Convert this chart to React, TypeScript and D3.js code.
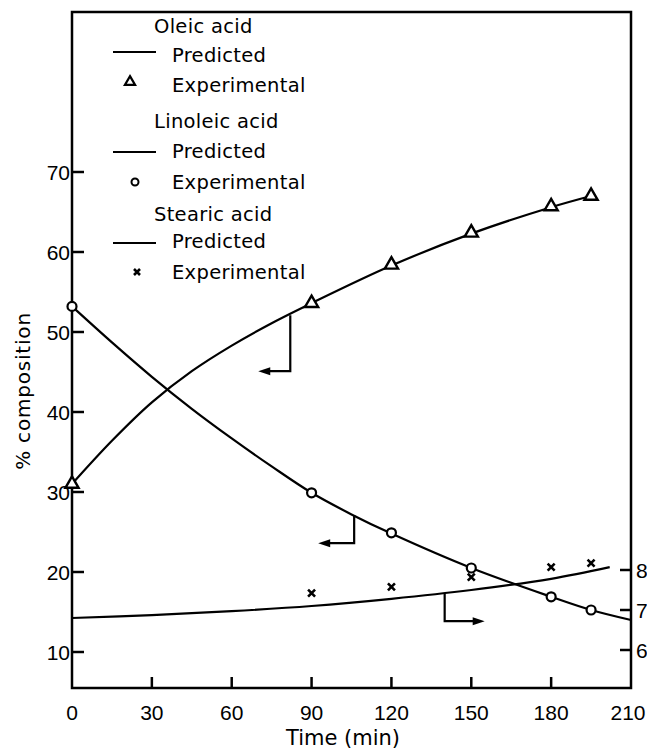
import React, { useEffect, useRef } from 'react'
import * as d3 from 'd3'

// experimental points (time in min)
const oleicTimes = [0, 90, 120, 150, 180, 195]
const oleicExp = [31.0, 53.6, 58.4, 62.4, 65.7, 67.0]
const linoleicTimes = [0, 90, 120, 150, 180, 195]
const linoleicExp = [53.2, 29.9, 24.9, 20.5, 16.9, 15.25]
const stearicTimes = [90, 120, 150, 180, 195]
const stearicExp = [7.42, 7.58, 7.82, 8.07, 8.17]

// predicted curves
const oleicPredT = [0, 15, 30, 45, 60, 75, 90, 120, 150, 180, 195]
const oleicPred = [31.0, 36.4, 41.2, 45.1, 48.3, 51.1, 53.6, 58.3, 62.3, 65.6, 67.0]
const linoleicPredT = [0, 15, 30, 45, 60, 75, 90, 105, 120, 150, 180, 195, 210]
const linoleicPred = [53.2, 48.7, 44.4, 40.4, 36.7, 33.2, 29.9, 27.2, 24.8, 20.5, 16.9, 15.25, 14.0]
const stearicPredT = [0, 30, 60, 90, 120, 150, 180, 202]
const stearicPred = [6.8, 6.87, 6.97, 7.1, 7.28, 7.5, 7.78, 8.07]

const xTicks = [0, 30, 60, 90, 120, 150, 180, 210]
const yLeftTicks = [10, 20, 30, 40, 50, 60, 70]
const yRightTicks = [6, 7, 8]

const legendGroups = [
  { title: 'Oleic acid', marker: 'triangle' },
  { title: 'Linoleic acid', marker: 'circle' },
  { title: 'Stearic acid', marker: 'cross' },
]

const FONT = 'DejaVu Sans'
const NUMFONT = 'Liberation Sans'

const App = () => {
  const ref = useRef<SVGSVGElement>(null)

  useEffect(() => {
    const svg = d3.select(ref.current)
    svg.selectAll('*').remove()

    const left = 72, right = 631, top = 12, bottom = 688

    const x = d3.scaleLinear().domain([0, 210]).range([left, right])
    const y = d3.scaleLinear().domain([5.5, 90]).range([bottom, top])
    const yR = d3.scaleLinear().domain([5.05, 21.95]).range([bottom, top])

    const g = svg.append('g')

    // frame
    g.append('rect')
      .attr('x', left).attr('y', top)
      .attr('width', right - left).attr('height', bottom - top)
      .attr('fill', 'none').attr('stroke', '#000').attr('stroke-width', 2.5)

    // bottom ticks
    g.selectAll('.xt').data(xTicks.filter(d => d > 0 && d < 210)).enter()
      .append('line')
      .attr('x1', d => x(d)).attr('x2', d => x(d))
      .attr('y1', bottom).attr('y2', bottom - 11)
      .attr('stroke', '#000').attr('stroke-width', 2.5)

    g.selectAll('.xl').data(xTicks).enter()
      .append('text')
      .attr('x', d => x(d) - (d === 210 ? 3 : 0)).attr('y', 720)
      .attr('text-anchor', 'middle')
      .attr('font-family', NUMFONT).attr('font-size', 21)
      .text(d => d)

    // left ticks
    g.selectAll('.yt').data(yLeftTicks).enter()
      .append('line')
      .attr('x1', left).attr('x2', left + 12)
      .attr('y1', d => y(d)).attr('y2', d => y(d))
      .attr('stroke', '#000').attr('stroke-width', 2.5)

    g.selectAll('.yl').data(yLeftTicks).enter()
      .append('text')
      .attr('x', left - 2).attr('y', d => y(d) + 7.5)
      .attr('text-anchor', 'end')
      .attr('font-family', NUMFONT).attr('font-size', 21)
      .text(d => d)

    // right ticks
    g.selectAll('.rt').data(yRightTicks).enter()
      .append('line')
      .attr('x1', right).attr('x2', right - 11)
      .attr('y1', d => yR(d)).attr('y2', d => yR(d))
      .attr('stroke', '#000').attr('stroke-width', 2.5)

    g.selectAll('.rl').data(yRightTicks).enter()
      .append('text')
      .attr('x', right + 5).attr('y', d => yR(d) + 7.5)
      .attr('font-family', NUMFONT).attr('font-size', 21)
      .text(d => d)

    // axis titles
    g.append('text')
      .attr('x', 343).attr('y', 745)
      .attr('text-anchor', 'middle')
      .attr('font-family', FONT).attr('font-size', 21)
      .text('Time (min)')

    g.append('text')
      .attr('transform', `translate(30, 391) rotate(-90)`)
      .attr('text-anchor', 'middle')
      .attr('font-family', FONT).attr('font-size', 20)
      .attr('letter-spacing', 0.8)
      .text('% composition')

    // predicted lines
    const drawPred = (ts: number[], vs: number[], sc: d3.ScaleLinear<number, number>) => {
      g.append('path')
        .datum(ts.map((t, i) => [x(t), sc(vs[i])] as [number, number]))
        .attr('fill', 'none').attr('stroke', '#000').attr('stroke-width', 2.2)
        .attr('d', d3.line().curve(d3.curveCatmullRom.alpha(0.5)))
    }
    drawPred(oleicPredT, oleicPred, y)
    drawPred(linoleicPredT, linoleicPred, y)
    drawPred(stearicPredT, stearicPred, yR)

    // arrows pointing to the axis used
    const arrow = (t: number, sc: d3.ScaleLinear<number, number>, v: number, drop: number, len: number) => {
      const x0 = x(t), y0 = sc(v), y1 = y0 + drop, x1 = x0 + len
      const s = Math.sign(len)
      g.append('path')
        .attr('d', `M${x0},${y0}V${y1}H${x1 - s * 8}`)
        .attr('fill', 'none').attr('stroke', '#000').attr('stroke-width', 2.2)
      g.append('path')
        .attr('d', `M${x1},${y1}L${x1 - s * 12},${y1 - 4}L${x1 - s * 12},${y1 + 4}Z`)
        .attr('fill', '#000')
    }
    arrow(82, y, 52.1, 56, -32)
    arrow(106, y, 27.1, 28, -36)
    arrow(140, yR, 7.42, 28, 40)

    // experimental markers
    const tri = d3.symbol().type(d3.symbolTriangle).size(75)
    g.selectAll('.tri').data(oleicTimes).enter()
      .append('path')
      .attr('transform', (d, i) => `translate(${x(d)},${y(oleicExp[i])})`)
      .attr('d', tri)
      .attr('fill', '#fff').attr('stroke', '#000').attr('stroke-width', 2.4)

    g.selectAll('.circ').data(linoleicTimes).enter()
      .append('circle')
      .attr('cx', d => x(d)).attr('cy', (d, i) => y(linoleicExp[i]))
      .attr('r', 4.5)
      .attr('fill', '#fff').attr('stroke', '#000').attr('stroke-width', 2.2)

    const crossD = 'M-3.5,-3.5L3.5,3.5M-3.5,3.5L3.5,-3.5'
    g.selectAll('.cross').data(stearicTimes).enter()
      .append('path')
      .attr('transform', (d, i) => `translate(${x(d)},${yR(stearicExp[i])})`)
      .attr('d', crossD)
      .attr('fill', 'none').attr('stroke', '#000').attr('stroke-width', 2.6)

    // legend
    const titleY = [33, 128, 221]
    const lineY = [52, 152, 243]
    const predY = [62, 158, 248]
    const markY = [82, 182, 272]
    const expY = [92, 189, 279]
    const markX = [130, 135, 137]
    const leg = g.append('g').attr('font-family', FONT).attr('font-size', 19.5).attr('letter-spacing', 0.3)
    legendGroups.forEach((grp, k) => {
      leg.append('text').attr('x', 154).attr('y', titleY[k]).text(grp.title)
      leg.append('line')
        .attr('x1', 113).attr('x2', 156)
        .attr('y1', lineY[k]).attr('y2', lineY[k])
        .attr('stroke', '#000').attr('stroke-width', 2)
      leg.append('text').attr('x', 172).attr('y', predY[k]).text('Predicted')
      const mx = markX[k], my = markY[k]
      if (grp.marker === 'triangle') {
        leg.append('path').attr('transform', `translate(${mx},${my})`).attr('d', d3.symbol().type(d3.symbolTriangle).size(45))
          .attr('fill', '#fff').attr('stroke', '#000').attr('stroke-width', 2.2)
      } else if (grp.marker === 'circle') {
        leg.append('circle').attr('cx', mx).attr('cy', my).attr('r', 3.5)
          .attr('fill', '#fff').attr('stroke', '#000').attr('stroke-width', 2)
      } else {
        leg.append('path').attr('transform', `translate(${mx},${my})`).attr('d', 'M-3,-3L3,3M-3,3L3,-3')
          .attr('stroke', '#000').attr('stroke-width', 2.6)
      }
      leg.append('text').attr('x', 172).attr('y', expY[k]).text('Experimental')
    })
  }, [])

  return (
    <svg ref={ref} width={647} height={750}
      style={{ position: 'absolute', left: 0, top: 0, background: '#fff' }} />
  )
}

export default App
